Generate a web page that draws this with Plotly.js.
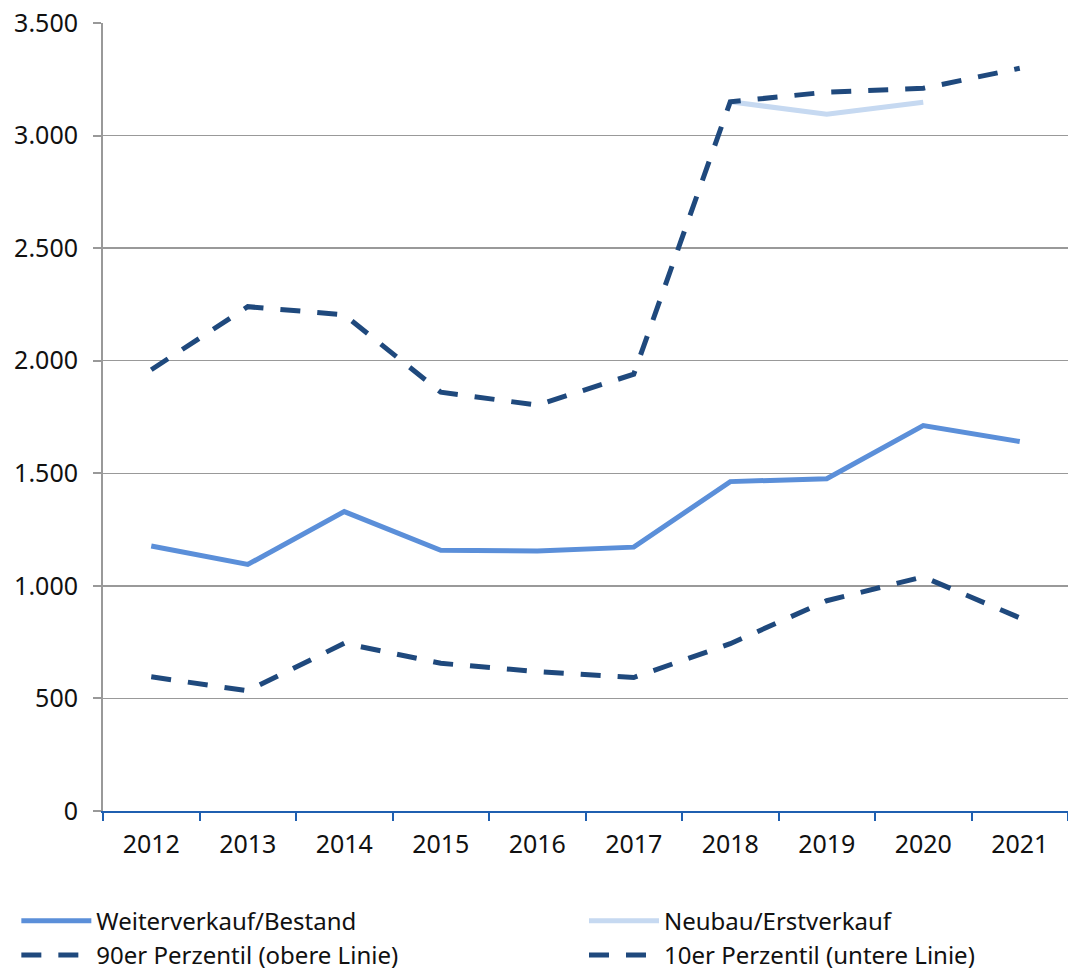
<!DOCTYPE html>
<html>
<head>
<meta charset="utf-8">
<script src="https://cdn.plot.ly/plotly-3.0.1.min.js"></script>
<style>html,body{margin:0;padding:0;background:#fff}#chart{width:1068px;height:970px}</style>
</head>
<body>
<div id="chart"></div>
<script>
const years = ['2012','2013','2014','2015','2016','2017','2018','2019','2020','2021'];
const weiterverkauf = [1177, 1095, 1330, 1158, 1155, 1172, 1463, 1476, 1712, 1641];
const neubau = [null, null, null, null, null, null, 3150, 3095, 3148, null];
const p90 = [1960, 2240, 2204, 1860, 1803, 1940, 3150, 3193, 3210, 3299];
const p10 = [596, 534, 745, 656, 619, 593, 743, 934, 1040, 858];
const yTicks = [0, 500, 1000, 1500, 2000, 2500, 3000, 3500];

const dark = '#1F497D';
const traces = [
  {x: years, y: weiterverkauf, name: 'Weiterverkauf/Bestand', type: 'scatter', mode: 'lines',
   legend: 'legend', line: {color: '#5B8FD9', width: 5}},
  {x: years, y: neubau, name: 'Neubau/Erstverkauf', type: 'scatter', mode: 'lines',
   legend: 'legend2', line: {color: '#C6D9F1', width: 5}},
  {x: years, y: p90, name: '90er Perzentil (obere Linie)', type: 'scatter', mode: 'lines',
   legend: 'legend', line: {color: dark, width: 5, dash: '20px,17px'}},
  {x: years, y: p10, name: '10er Perzentil (untere Linie)', type: 'scatter', mode: 'lines',
   legend: 'legend2', line: {color: dark, width: 5, dash: '20px,17px'}}
];

const legendBase = {orientation: 'v', xref: 'container', yref: 'container', xanchor: 'left',
  y: 0.0735, yanchor: 'top', itemwidth: 70, traceorder: 'normal', bgcolor: 'rgba(0,0,0,0)',
  font: {size: 24, color: '#111'}, tracegroupgap: 0};

const layout = {
  width: 1068, height: 970,
  margin: {l: 103, r: 0, t: 23, b: 159, autoexpand: false},
  paper_bgcolor: '#fff', plot_bgcolor: '#fff',
  separators: ',.',
  font: {family: 'Noto Sans, sans-serif', size: 25, color: '#111'},
  showlegend: true,
  legend: Object.assign({}, legendBase, {x: 0.0153}),
  legend2: Object.assign({}, legendBase, {x: 0.5468}),
  xaxis: {type: 'category', range: [-0.5, 9.5], tickson: 'boundaries', ticks: 'outside', ticklen: 8, tickwidth: 2,
          tickcolor: '#1F5FB0', showline: true, linecolor: '#1F5FB0', linewidth: 2,
          showgrid: false, zeroline: false, fixedrange: true, ticklabelstandoff: 10},
  yaxis: {range: [0, 3500], tickvals: yTicks, tickformat: ',d', ticks: 'outside', ticklen: 8,
          tickwidth: 2, tickcolor: '#999', showline: true, linecolor: '#999', linewidth: 2,
          showgrid: true, gridcolor: '#999', gridwidth: 1.5, zeroline: false, fixedrange: true,
          ticklabelstandoff: 10}
};

Plotly.newPlot('chart', traces, layout, {displayModeBar: false, staticPlot: true});
</script>
</body>
</html>
